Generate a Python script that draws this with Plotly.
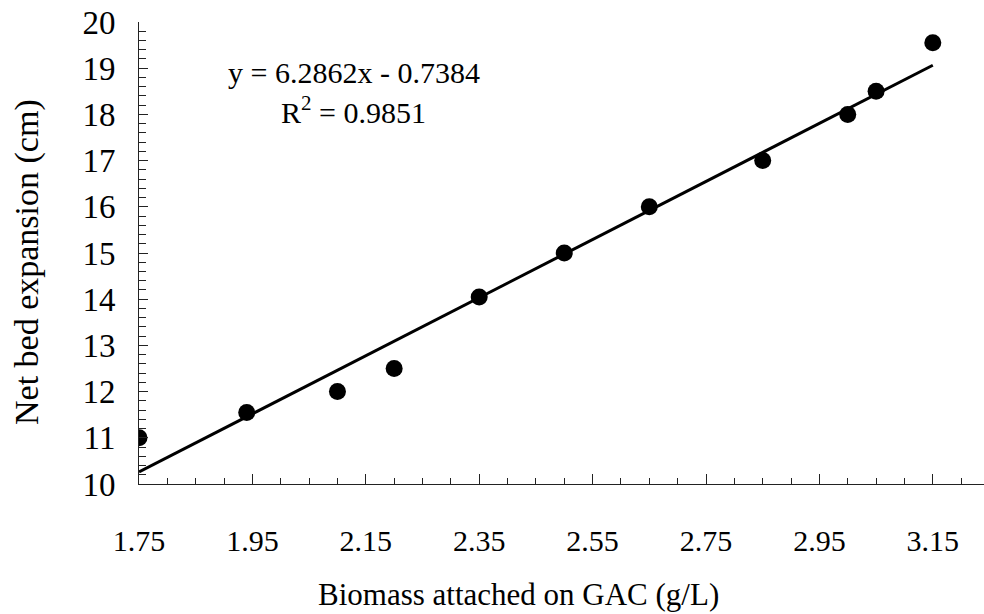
import plotly.graph_objects as go

# Data
biomass = [1.75, 1.94, 2.10, 2.20, 2.35, 2.50, 2.65, 2.85, 3.00, 3.05, 3.15]
expansion = [11.0, 11.55, 12.0, 12.5, 14.05, 15.0, 16.0, 17.0, 18.0, 18.5, 19.55]

slope = 6.2862
intercept = -0.7384
r2 = 0.9851
fit_x = [min(biomass), max(biomass)]
fit_y = [slope * v + intercept for v in fit_x]

x_ticks = [1.75, 1.95, 2.15, 2.35, 2.55, 2.75, 2.95, 3.15]
y_ticks = list(range(10, 21))

x_title = "Biomass attached on GAC (g/L)"
y_title = "Net bed expansion (cm)"

FONT = "Liberation Serif"

W, H = 984, 614
ml, mr, mt, mb = 139, 0, 22, 130
pw, ph = W - ml - mr, H - mt - mb

def px_to_paper(px, py):
    return (px - ml) / pw, 1 - (py - mt) / ph

fig = go.Figure()
fig.add_trace(go.Scatter(x=fit_x, y=fit_y, mode="lines",
                         line=dict(color="black", width=3), showlegend=False,
                         hoverinfo="skip"))
fig.add_trace(go.Scatter(x=biomass, y=expansion, mode="markers",
                         marker=dict(color="black", size=17), showlegend=False))

ax1, ay1 = px_to_paper(354, 72)
ax2, ay2 = px_to_paper(353, 110)
fig.add_annotation(x=ax1, y=ay1, xref="paper", yref="paper", showarrow=False,
                   xanchor="center", yanchor="middle",
                   text=f"y = {slope}x - {abs(intercept)}",
                   font=dict(family=FONT, size=30, color="black"))
fig.add_annotation(x=ax2, y=ay2, xref="paper", yref="paper", showarrow=False,
                   xanchor="center", yanchor="middle",
                   text=f"R<sup>2</sup> = {r2}",
                   font=dict(family=FONT, size=30, color="black"))

# axis titles (placed as in the reference)
tx, ty = px_to_paper(518, 594)
fig.add_annotation(x=tx, y=ty, xref="paper", yref="paper", showarrow=False,
                   xanchor="center", yanchor="middle", text=x_title,
                   font=dict(family=FONT, size=31, color="black"))
vx, vy = px_to_paper(27, 262)
fig.add_annotation(x=vx, y=vy, xref="paper", yref="paper", showarrow=False,
                   xanchor="center", yanchor="middle", text=y_title,
                   textangle=-90,
                   font=dict(family=FONT, size=34, color="black"))

fig.update_layout(
    width=W, height=H,
    margin=dict(l=ml, r=mr, t=mt, b=mb, autoexpand=False),
    plot_bgcolor="white", paper_bgcolor="white",
    font=dict(family=FONT, color="black"),
)
fig.update_xaxes(
    range=[1.75, 1.75 + 0.2 * pw / 113.4],
    tickvals=x_ticks, ticktext=[f"{v:.2f}" for v in x_ticks],
    ticks="inside", ticklen=10, tickwidth=1, tickcolor="#222",
    minor=dict(tick0=1.75, dtick=0.05, ticks="inside", ticklen=6,
               tickwidth=1, tickcolor="#222", showgrid=False),
    showline=True, linecolor="#222", linewidth=1,
    showgrid=False, zeroline=False,
    tickfont=dict(family=FONT, size=30, color="black"),
    ticklabelstandoff=30,
    automargin=False,
)
fig.update_yaxes(
    range=[10, 20],
    tickvals=y_ticks,
    ticks="inside", ticklen=9, tickwidth=1, tickcolor="#222",
    minor=dict(tick0=10, dtick=0.2, ticks="inside", ticklen=7,
               tickwidth=1, tickcolor="#222", showgrid=False),
    showline=True, linecolor="#222", linewidth=1,
    showgrid=False, zeroline=False,
    tickfont=dict(family=FONT, size=33, color="black"),
    ticklabelstandoff=16,
    automargin=False,
)

fig.write_html("out.html")
